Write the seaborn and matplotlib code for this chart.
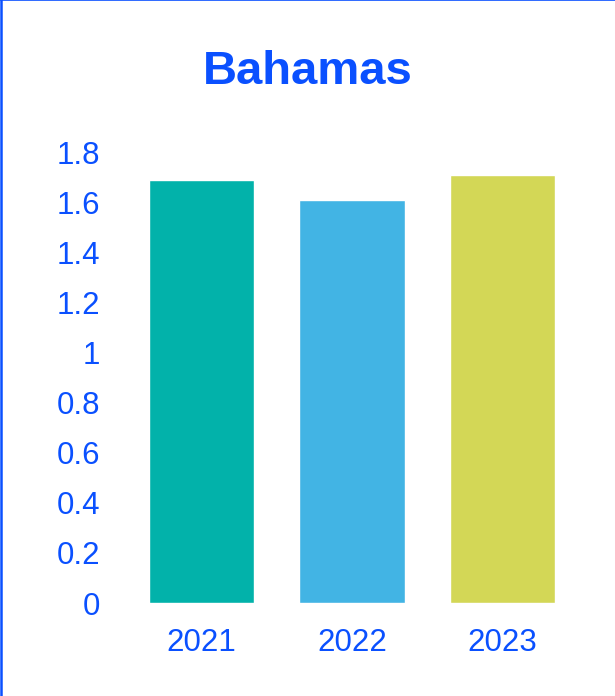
import pandas as pd
import seaborn as sns
import matplotlib.pyplot as plt
from matplotlib.lines import Line2D

# Data
years = ['2021', '2022', '2023']
values = [1.69, 1.61, 1.71]
bar_colors = ['#02b2aa', '#42b4e4', '#d3d756']
y_ticks = [0, 0.2, 0.4, 0.6, 0.8, 1, 1.2, 1.4, 1.6, 1.8]
y_tick_labels = ['0', '0.2', '0.4', '0.6', '0.8', '1', '1.2', '1.4', '1.6', '1.8']
title = 'Bahamas'

blue = '#0a50ff'

df = pd.DataFrame({'year': years, 'value': values})

sns.set_style('white')
plt.rcParams['font.family'] = ['Liberation Sans', 'DejaVu Sans']

fig = plt.figure(figsize=(6.15, 6.96), dpi=100)
ax = fig.add_axes([0.2057, 0.1336, 0.7333, 0.648])

sns.barplot(data=df, x='year', y='value', hue='year', palette=bar_colors,
            width=0.7, legend=False, saturation=1, ax=ax)

ax.set_xlim(-0.5, 2.5)
ax.set_ylim(0, 1.8)
ax.set_yticks(y_ticks)
ax.set_yticklabels(y_tick_labels)
ax.set_xlabel('')
ax.set_ylabel('')
ax.tick_params(axis='both', length=0, labelsize=22.5, labelcolor=blue)
ax.tick_params(axis='y', pad=19)
ax.tick_params(axis='x', pad=18)
sns.despine(ax=ax, left=True, bottom=True)

fig.text(0.5, 0.896, title, ha='center', va='center', fontsize=34,
         fontweight='bold', color=blue)

# border on top and left edges
fig.add_artist(Line2D([0, 1], [0.9993, 0.9993], transform=fig.transFigure, color=blue, lw=1.2))
fig.add_artist(Line2D([0.0016, 0.0016], [0, 1], transform=fig.transFigure, color=blue, lw=1.8))

fig.savefig('out.png', dpi=100)
